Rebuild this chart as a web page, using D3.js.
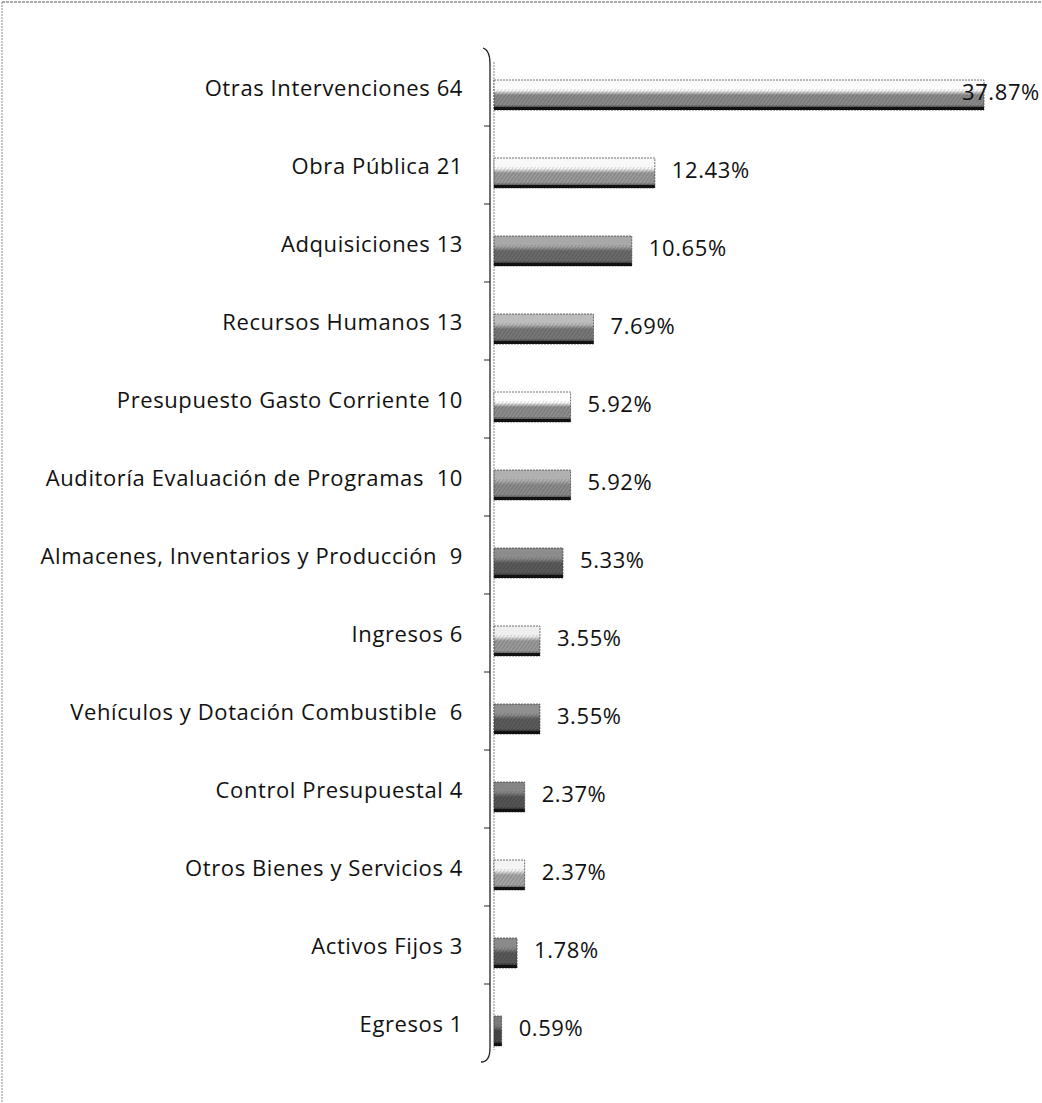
<!DOCTYPE html>
<html>
<head>
<meta charset="utf-8">
<script src="https://cdn.jsdelivr.net/npm/d3@7"></script>
<style>
  body { margin: 0; background: #fff; }
  text { font-family: "Open Sans", Lato, sans-serif; fill: #111; white-space: pre; letter-spacing: 0.6px; }
</style>
</head>
<body>
<div id="chart"></div>
<script>

// categories (label text as printed, count included)
var categories = [
  "Otras Intervenciones 64",
  "Obra Pública 21",
  "Adquisiciones 13",
  "Recursos Humanos 13",
  "Presupuesto Gasto Corriente 10",
  "Auditoría Evaluación de Programas  10",
  "Almacenes, Inventarios y Producción  9",
  "Ingresos 6",
  "Vehículos y Dotación Combustible  6",
  "Control Presupuestal 4",
  "Otros Bienes y Servicios 4",
  "Activos Fijos 3",
  "Egresos 1"
];

// percentages
var percents = [37.87, 12.43, 10.65, 7.69, 5.92, 5.92, 5.33, 3.55, 3.55, 2.37, 2.37, 1.78, 0.59];

var percentLabels = ["37.87%", "12.43%", "10.65%", "7.69%", "5.92%", "5.92%", "5.33%",
                     "3.55%", "3.55%", "2.37%", "2.37%", "1.78%", "0.59%"];

// grey shade of each bar: [top, middle, bottom]
var shades = [
  ["#fbfbfb", "#8a8a8a", "#111"],
  ["#f8f8f8", "#999", "#1a1a1a"],
  ["#a8a8a8", "#6a6a6a", "#111"],
  ["#bcbcbc", "#777", "#111"],
  ["#ffffff", "#8c8c8c", "#222"],
  ["#b0b0b0", "#8a8a8a", "#2a2a2a"],
  ["#8c8c8c", "#5a5a5a", "#111"],
  ["#efefef", "#999", "#333"],
  ["#909090", "#5c5c5c", "#111"],
  ["#858585", "#555", "#111"],
  ["#f4f4f4", "#a4a4a4", "#3a3a3a"],
  ["#8a8a8a", "#585858", "#111"],
  ["#7a7a7a", "#484848", "#111"]
];

var width = 1042, height = 1103;
var svg = d3.select("#chart").append("svg")
  .attr("width", width)
  .attr("height", height);

var defs = svg.append("defs");

shades.forEach(function(s, i) {
  var g = defs.append("linearGradient")
    .attr("id", "grad" + i)
    .attr("x1", 0).attr("y1", 0).attr("x2", 0).attr("y2", 1);
  g.append("stop").attr("offset", "0%").attr("stop-color", s[0]);
  g.append("stop").attr("offset", "35%").attr("stop-color", s[0]);
  g.append("stop").attr("offset", "50%").attr("stop-color", s[1]);
  g.append("stop").attr("offset", "82%").attr("stop-color", s[1]);
  g.append("stop").attr("offset", "100%").attr("stop-color", s[2]);
});

// scan-like hatching texture
var pat = defs.append("pattern")
  .attr("id", "hatch")
  .attr("patternUnits", "userSpaceOnUse")
  .attr("width", 3).attr("height", 3)
  .attr("patternTransform", "rotate(35)");
pat.append("line")
  .attr("x1", 0).attr("y1", 0).attr("x2", 0).attr("y2", 3)
  .attr("stroke", "#000").attr("stroke-opacity", 0.3).attr("stroke-width", 1);

// page border (scan edge)
svg.append("line").attr("x1", 2).attr("y1", 2).attr("x2", width).attr("y2", 2)
  .attr("stroke", "#555").attr("stroke-dasharray", "3,1");
svg.append("line").attr("x1", 2).attr("y1", 2).attr("x2", 2).attr("y2", height)
  .attr("stroke", "#888").attr("stroke-dasharray", "2,1");

var x0 = 494;
var x = d3.scaleLinear().domain([0, 37.87]).range([x0, 984]);
var y = d3.scaleBand().domain(categories).range([48, 1062]).paddingInner(0);

var depth = 8, barH = 30;

// axis wall
var yTop = y.range()[0], yBot = y.range()[1];
svg.append("path")
  .attr("d", "M483," + yTop + " Q490," + (yTop + 2) + " 490," + (yTop + 16) +
    " L490," + (yBot - 14) + " Q490," + yBot + " 481," + yBot)
  .attr("fill", "none").attr("stroke", "#222").attr("stroke-width", 1.3);
svg.append("line")
  .attr("x1", x0).attr("x2", x0).attr("y1", yTop + 14).attr("y2", yBot - 12)
  .attr("stroke", "#666").attr("stroke-width", 0.8).attr("stroke-dasharray", "2,1");

// ticks at band boundaries
svg.append("g").selectAll("line")
  .data(categories.slice(1))
  .join("line")
  .attr("x1", 484).attr("x2", 490)
  .attr("y1", function(d) { return y(d); })
  .attr("y2", function(d) { return y(d); })
  .attr("stroke", "#222");

var rows = svg.append("g").selectAll("g")
  .data(categories)
  .join("g");

function barY(d) { return y(d) + y.bandwidth() / 2 + depth - barH / 2; }
function barW(d, i) { return x(percents[i]) - x0; }

rows.append("rect")
  .attr("x", x0)
  .attr("y", barY)
  .attr("width", barW)
  .attr("height", barH)
  .attr("fill", function(d, i) { return "url(#grad" + i + ")"; });

rows.append("rect")
  .attr("x", x0)
  .attr("y", function(d) { return barY(d) + barH * 0.3; })
  .attr("width", barW)
  .attr("height", barH * 0.7)
  .attr("fill", "url(#hatch)");

rows.append("rect")
  .attr("x", x0)
  .attr("y", barY)
  .attr("width", barW)
  .attr("height", barH)
  .attr("fill", "none")
  .attr("stroke", "#333")
  .attr("stroke-width", 0.7)
  .attr("stroke-dasharray", "2,1");

// dark bottom edge
rows.append("rect")
  .attr("x", x0)
  .attr("y", function(d) { return barY(d) + barH - 3; })
  .attr("width", barW)
  .attr("height", 3)
  .attr("fill", "#111");

// category labels
rows.append("text")
  .attr("x", 463)
  .attr("y", function(d) { return y(d) + y.bandwidth() / 2 + 3; })
  .attr("text-anchor", "end")
  .attr("dominant-baseline", "middle")
  .style("font-size", "22px")
  .text(function(d) { return d; });

// value labels
rows.append("text")
  .attr("x", function(d, i) { return Math.min(x(percents[i]) + 17, width - 80); })
  .attr("y", function(d) { return y(d) + y.bandwidth() / 2 + depth - 1; })
  .attr("dominant-baseline", "middle")
  .style("font-size", "22px")
  .text(function(d, i) { return percentLabels[i]; });

</script>
</body>
</html>
